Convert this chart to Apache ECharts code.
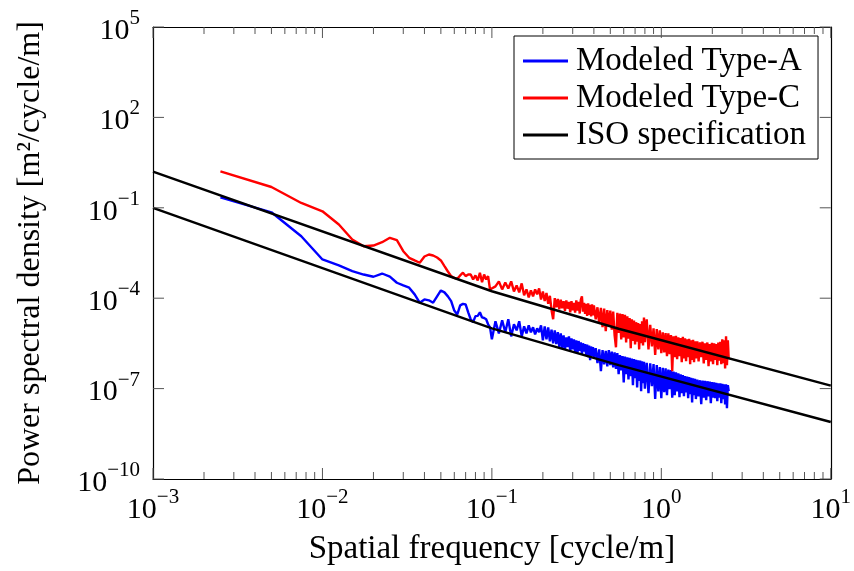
<!DOCTYPE html>
<html><head><meta charset="utf-8">
<script src="https://cdn.jsdelivr.net/npm/echarts@6/dist/echarts.min.js"></script>
<style>html,body{margin:0;padding:0;background:#fff}#c{width:854px;height:571px}</style>
</head><body><div id="c"></div>
<script>
// Spatial frequency bins [cycle/m]
const freq = [
 0.0025,0.005,0.0075,0.01,0.0125,0.015,0.0175,0.02,0.0225,0.025,
 0.0275,0.03,0.0325,0.035,0.0375,0.04,0.0425,0.045,0.0475,0.05,
 0.0525,0.055,0.0575,0.06,0.0625,0.065,0.0675,0.07,0.0725,0.075,
 0.0775,0.08,0.0825,0.085,0.0875,0.09,0.0925,0.095,0.0975,0.1,
 0.105,0.11,0.115,0.12,0.125,0.13,0.135,0.14,0.145,0.15,
 0.155,0.16,0.165,0.17,0.175,0.18,0.185,0.19,0.195,0.2,
 0.205,0.21,0.215,0.22,0.225,0.23,0.235,0.24,0.245,0.25,
 0.255,0.26,0.265,0.27,0.275,0.28,0.285,0.29,0.295,0.30,
 0.305,0.31,0.315,0.32,0.325,0.33,0.335,0.34,0.345,0.35,
 0.355,0.36,0.365,0.37,0.375,0.38,0.385,0.39,0.395,0.40,
 0.41,0.42,0.43,0.44,0.45,0.46,0.47,0.48,0.49,0.50,
 0.51,0.52,0.53,0.54,0.55,0.56,0.57,0.58,0.59,0.60,
 0.61,0.62,0.63,0.64,0.65,0.66,0.67,0.68,0.69,0.70,
 0.71,0.72,0.73,0.74,0.75,0.76,0.77,0.78,0.79,0.80,
 0.82,0.84,0.86,0.88,0.90,0.92,0.94,0.96,0.98,1.00,
 1.02,1.04,1.06,1.08,1.10,1.12,1.14,1.16,1.18,1.20,
 1.22,1.24,1.26,1.28,1.30,1.32,1.34,1.36,1.38,1.40,
 1.42,1.44,1.46,1.48,1.50,1.52,1.54,1.56,1.58,1.60,
 1.63,1.66,1.69,1.72,1.75,1.78,1.81,1.84,1.87,1.90,
 1.93,1.96,1.99,2.02,2.05,2.08,2.11,2.14,2.17,2.20,
 2.23,2.26,2.29,2.32,2.35,2.38,2.41,2.44,2.47,2.50
];
// Modeled Type-A PSD [m^2/cycle/m]
const typeA = [
 0.223,0.071,0.0114,0.00193,0.00122,7.9e-4,6.1e-4,5.15e-4,6.6e-4,5.2e-4,
 3.26e-4,2.65e-4,2.23e-4,1.34e-4,7.1e-5,9.1e-5,8.5e-5,7.1e-5,1.15e-4,1.81e-4,
 1.56e-4,1.15e-4,8.0e-5,3.9e-5,2.9e-5,5.8e-5,6.5e-5,6.2e-5,3.4e-5,2.0e-5,
 1.6e-5,2.55e-5,2.6e-5,3.4e-5,2.3e-5,2.2e-5,2.0e-5,1.36e-5,1.08e-5,4.3e-6,
 1.71e-5,6.8e-6,1.84e-5,7.4e-6,2.0e-5,5.4e-6,1.36e-5,8.6e-6,1.71e-5,5.4e-6,
 1.16e-5,6.8e-6,1.26e-5,7.4e-6,1.08e-5,6.3e-6,1.0e-5,7.4e-6,1.26e-5,4.0e-6,
 1.16e-5,4.3e-6,1.08e-5,3.7e-6,9.0e-6,3.2e-6,8.5e-6,3.0e-6,7.5e-6,2.4e-6,
 6.8e-6,2.2e-6,5.8e-6,2.0e-6,5.0e-6,2.4e-6,5.4e-6,1.8e-6,4.6e-6,2.0e-6,
 4.3e-6,1.6e-6,4.0e-6,1.49e-6,3.8e-6,1.8e-6,3.4e-6,1.4e-6,3.2e-6,1.7e-6,
 3.0e-6,1.28e-6,2.9e-6,1.1e-6,2.7e-6,8.7e-7,2.5e-6,1.2e-6,2.4e-6,1.0e-6,
 2.2e-6,7.0e-7,2.0e-6,3.8e-7,1.9e-6,6.4e-7,1.8e-6,5.5e-7,1.9e-6,6.0e-7,
 1.7e-6,5.1e-7,1.6e-6,4.5e-7,1.5e-6,3.0e-7,1.3e-6,4.0e-7,1.2e-6,1.6e-7,
 1.15e-6,3.0e-7,1.1e-6,2.0e-7,1.05e-6,2.6e-7,1.0e-6,1.3e-7,9.5e-7,2.2e-7,
 9.0e-7,1.1e-7,8.7e-7,1.8e-7,8.5e-7,8.2e-8,8.1e-7,1.5e-7,7.8e-7,1.0e-7,
 7.2e-7,7.0e-8,6.9e-7,1.2e-7,6.5e-7,4.5e-8,6.0e-7,8.0e-8,5.2e-7,4.8e-8,
 4.9e-7,7.6e-8,4.7e-7,6.0e-8,4.3e-7,9.6e-8,4.1e-7,5.0e-8,3.7e-7,6.0e-8,
 3.5e-7,8.0e-8,3.2e-7,5.2e-8,3.0e-7,7.0e-8,2.8e-7,5.6e-8,2.6e-7,7.5e-8,
 2.5e-7,4.8e-8,2.4e-7,6.5e-8,2.3e-7,3.5e-8,2.2e-7,6.0e-8,2.1e-7,4.5e-8,
 2.0e-7,5.5e-8,1.9e-7,3.05e-8,1.85e-7,5.0e-8,1.8e-7,4.1e-8,1.76e-7,5.5e-8,
 1.7e-7,3.3e-8,1.65e-7,5.0e-8,1.6e-7,4.8e-8,1.55e-7,3.8e-8,1.5e-7,5.0e-8,
 1.5e-7,3.3e-8,1.45e-7,4.5e-8,1.4e-7,3.0e-8,1.4e-7,2.25e-8,1.3e-7,8.2e-8
];
// Modeled Type-C PSD [m^2/cycle/m]
const typeC = [
 1.62,0.49,0.145,0.0766,0.0278,0.00885,0.00531,0.0056,0.00721,0.0101,
 0.0084,0.00363,0.00219,0.00179,0.0015,0.00242,0.00282,0.00261,0.00224,0.00179,
 0.00116,7.7e-4,5.4e-4,4.7e-4,4.4e-4,5.7e-4,7.0e-4,5.4e-4,6.1e-4,6.1e-4,
 4.2e-4,5.7e-4,3.9e-4,7.0e-4,3.4e-4,6.1e-4,4.2e-4,5.4e-4,1.95e-4,2.2e-4,
 2.46e-4,3.6e-4,1.96e-4,3.3e-4,2.11e-4,3.6e-4,1.68e-4,2.65e-4,1.56e-4,3.1e-4,
 1.24e-4,1.96e-4,1.06e-4,1.81e-4,1.15e-4,1.96e-4,1.34e-4,2.11e-4,9.1e-5,1.68e-4,
 8.0e-5,1.5e-4,6.5e-5,1.2e-4,4.0e-5,2.0e-5,1.0e-4,5.0e-5,9.5e-5,4.3e-5,
 9.0e-5,4.6e-5,8.0e-5,3.8e-5,8.5e-5,4.5e-5,7.5e-5,3.4e-5,8.0e-5,4.0e-5,
 7.0e-5,3.3e-5,8.5e-5,3.9e-5,7.5e-5,3.1e-5,9.0e-5,1.15e-4,3.6e-5,7.0e-5,
 3.0e-5,6.5e-5,2.6e-5,6.8e-5,2.8e-5,6.0e-5,2.5e-5,6.2e-5,2.7e-5,5.8e-5,
 2.0e-5,5.0e-5,1.4e-5,4.8e-5,1.1e-5,4.5e-5,8.0e-6,4.0e-5,1.2e-5,3.9e-5,
 9.0e-6,3.6e-5,6.0e-6,2.35e-6,3.3e-5,7.0e-6,3.1e-5,4.3e-6,3.0e-5,5.0e-6,
 2.8e-5,3.4e-6,2.5e-5,4.5e-6,2.2e-5,2.2e-6,2.0e-5,3.8e-6,1.8e-5,2.9e-6,
 1.6e-5,3.6e-6,1.5e-5,2.0e-6,1.4e-5,3.2e-6,1.7e-5,2.7e-6,2.3e-5,3.5e-6,
 2.0e-5,2.0e-6,1.3e-5,2.5e-6,1.0e-5,1.3e-6,9.5e-6,2.0e-6,8.6e-6,1.5e-6,
 7.4e-6,1.6e-6,7.0e-6,1.2e-6,6.8e-6,1.4e-6,6.0e-6,3.8e-7,5.4e-6,1.1e-6,
 5.6e-6,9.4e-7,5.0e-6,1.2e-6,4.8e-6,7.5e-7,5.2e-6,1.0e-6,4.7e-6,8.1e-7,
 4.3e-6,1.1e-6,4.5e-6,6.4e-7,4.0e-6,9.0e-7,4.2e-6,7.5e-7,3.7e-6,1.0e-6,
 3.7e-6,8.0e-7,3.4e-6,1.1e-6,3.6e-6,6.9e-7,3.2e-6,9.0e-7,3.4e-6,5.5e-7,
 3.0e-6,8.0e-7,3.3e-6,6.4e-7,3.2e-6,9.0e-7,3.0e-6,6.0e-7,3.4e-6,8.5e-7,
 3.6e-6,6.4e-7,4.3e-6,7.0e-7,4.0e-6,4.7e-7,5.4e-6,6.0e-7,4.0e-6,9.4e-7
];
// ISO specification lines (vertices)
const isoFreq = [0.001, 0.1, 0.56, 10];
const isoLower = [0.1, 1.0e-5, 6.0e-7, 7.8e-9];
const isoUpper = [1.6, 1.7e-4, 9.7e-6, 1.25e-7];

// Axis ticks (decades / sub-decades)
const xMajor = [0.001, 0.01, 0.1, 1, 10];
const xMinor = [0.002,0.003,0.004,0.005,0.006,0.007,0.008,0.009,
                0.02,0.03,0.04,0.05,0.06,0.07,0.08,0.09,
                0.2,0.3,0.4,0.5,0.6,0.7,0.8,0.9,
                2,3,4,5,6,7,8,9];
const yMajor = [1e-10, 1e-7, 1e-4, 1e-1, 1e2, 1e5];

const FONT = '"Liberation Serif", "DejaVu Serif", serif';
const L = Math.log10;
function pairs(xs, ys){ return xs.map((x,i)=>[L(x), L(ys[i])]); }
function sci(v){
  const e = Math.round(v);
  return '{b|10}{s|' + (e < 0 ? '\u2212' + (-e) : e) + '}';
}
const rich = {
  b: {fontSize: 30, fontFamily: FONT, color: '#000', lineHeight: 38, verticalAlign: 'bottom'},
  s: {fontSize: 21, fontFamily: FONT, color: '#000', lineHeight: 38, verticalAlign: 'top'}
};
const X0 = L(0.001), X1 = L(10), Y0 = L(1e-10), Y1 = L(1e5);
const frame = {show: true, onZero: false, lineStyle: {color: '#000', width: 1.2}};
const TICK = {stroke: '#555', lineWidth: 1};

function xTicks(vals, len){
  return {type: 'custom', xAxisIndex: 0, yAxisIndex: 0, silent: true, clip: false, z: 10,
    data: vals.map(v => [L(v), Y0]),
    renderItem: (p, api) => {
      const x = api.coord([api.value(0), Y0])[0];
      const yb = api.coord([X0, Y0])[1], yt = api.coord([X0, Y1])[1];
      return {type: 'group', children: [
        {type: 'line', shape: {x1: x, y1: yb, x2: x, y2: yb - len}, style: TICK},
        {type: 'line', shape: {x1: x, y1: yt, x2: x, y2: yt + len}, style: TICK}
      ]};
    }};
}
function yTicks(vals, len){
  return {type: 'custom', xAxisIndex: 0, yAxisIndex: 0, silent: true, clip: false, z: 10,
    data: vals.map(v => [X0, L(v)]),
    renderItem: (p, api) => {
      const y = api.coord([X0, api.value(1)])[1];
      const xl = api.coord([X0, Y0])[0], xr = api.coord([X1, Y0])[0];
      return {type: 'group', children: [
        {type: 'line', shape: {x1: xl, y1: y, x2: xl + len, y2: y}, style: TICK},
        {type: 'line', shape: {x1: xr, y1: y, x2: xr - len, y2: y}, style: TICK}
      ]};
    }};
}
const lineSeries = (name, data, color, z) => ({
  name, type: 'line', data, symbol: 'none', showSymbol: false,
  lineStyle: {color, width: 2.4}, itemStyle: {color}, animation: false,
  xAxisIndex: 0, yAxisIndex: 0, z
});

const chart = echarts.init(document.getElementById('c'), null, {renderer: 'canvas'});
chart.setOption({
  animation: false,
  backgroundColor: '#fff',
  grid: {left: 153, right: 21, top: 27, bottom: 91, containLabel: false},
  legend: {
    left: 514, top: 36, orient: 'vertical', align: 'left',
    data: ['Modeled Type-A', 'Modeled Type-C', 'ISO specification'],
    icon: 'rect', itemWidth: 45, itemHeight: 3, itemGap: 3,
    padding: [8, 12, 7, 9],
    borderColor: '#000', borderWidth: 1, borderRadius: 0, backgroundColor: '#fff',
    textStyle: {fontFamily: FONT, fontSize: 33, color: '#000', lineHeight: 34, padding: [0, 0, 0, 3]},
    selectedMode: false
  },
  xAxis: [
    {type: 'value', min: X0, max: X1, position: 'bottom', axisLine: frame,
     axisTick: {show: false}, splitLine: {show: false},
     axisLabel: {show: true, customValues: xMajor.map(L), formatter: sci, rich: rich, margin: 8},
     name: 'Spatial frequency [cycle/m]', nameLocation: 'middle', nameGap: 54,
     nameTextStyle: {fontFamily: FONT, fontSize: 33, color: '#000'}},
    {type: 'value', min: X0, max: X1, position: 'top', axisLine: frame,
     axisTick: {show: false}, splitLine: {show: false}, axisLabel: {show: false}}
  ],
  yAxis: [
    {type: 'value', min: Y0, max: Y1, position: 'left', axisLine: frame,
     axisTick: {show: false}, splitLine: {show: false},
     axisLabel: {show: true, customValues: yMajor.map(L), formatter: sci, rich: rich, margin: 13},
     name: 'Power spectral density [m\u00b2/cycle/m]', nameLocation: 'middle', nameGap: 106,
     nameTextStyle: {fontFamily: FONT, fontSize: 32, color: '#000'}},
    {type: 'value', min: Y0, max: Y1, position: 'right', axisLine: frame,
     axisTick: {show: false}, splitLine: {show: false}, axisLabel: {show: false}}
  ],
  series: [
    lineSeries('Modeled Type-A', pairs(freq, typeA), '#0000ff', 3),
    lineSeries('Modeled Type-C', pairs(freq, typeC), '#ff0000', 3),
    lineSeries('ISO specification', pairs(isoFreq, isoUpper), '#000000', 5),
    lineSeries('ISO specification', pairs(isoFreq, isoLower), '#000000', 5),
    xTicks(xMajor, 11), xTicks(xMinor, 7), yTicks(yMajor, 11)
  ]
});
</script>
</body></html>
